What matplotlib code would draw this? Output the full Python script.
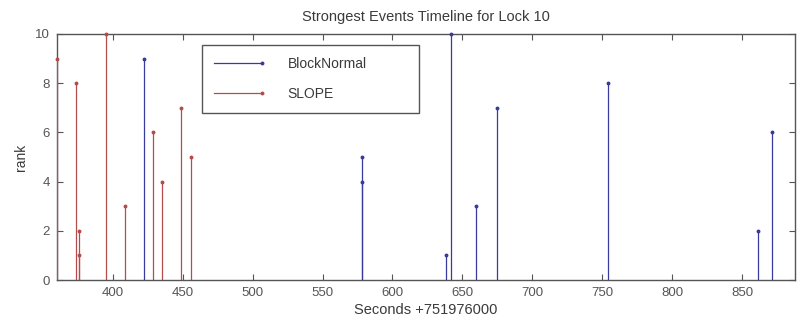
import matplotlib

matplotlib.use("Agg")
import matplotlib.pyplot as plt
from matplotlib.legend_handler import HandlerLine2DCompound
from matplotlib.lines import Line2D

# event times (seconds offset) and ranks
block_t = [422.4, 578.5, 578.5, 638.6, 641.7, 659.6, 674.6, 754.5, 861.7, 871.2]
block_rank = [9, 5, 4, 1, 10, 3, 7, 8, 2, 6]
slope_t = [360.0, 373.8, 376.0, 376.0, 395.0, 408.6, 429.0, 435.0, 448.7, 455.6]
slope_rank = [9, 8, 2, 1, 10, 3, 6, 4, 7, 5]

BLUE = "#3a3a9c"
RED = "#b44c4c"
GREY = "#555555"

plt.rcParams.update({
    "font.family": ["Liberation Sans", "DejaVu Sans"],
    "font.size": 10,
    "axes.edgecolor": GREY,
    "xtick.color": GREY,
    "ytick.color": GREY,
    "xtick.labelsize": 9.5,
    "ytick.labelsize": 9.5,
    "text.color": "#3a3a3a",
    "axes.labelcolor": "#3a3a3a",
})


class EndMarker(HandlerLine2DCompound):
    # legend line with the marker at its right end, like MATLAB stem legends
    def get_xdata(self, legend, xdescent, ydescent, width, height, fontsize):
        return [-xdescent, -xdescent + width], [-xdescent + width]


fig = plt.figure(figsize=(7.98, 3.23), dpi=100)
ax = fig.add_axes([0.0714, 0.133, 0.925, 0.762])

for ts, rs, c in ((block_t, block_rank, BLUE), (slope_t, slope_rank, RED)):
    ax.vlines(ts, 0, rs, color=c, linewidth=0.9, zorder=3)
    ax.plot(ts, rs, linestyle="none", marker="o", markersize=1.8, color=c,
            clip_on=False, zorder=4)

ax.set_xlim(360, 888)
ax.set_ylim(0, 10)
ax.set_xticks(range(400, 851, 50))
ax.set_yticks(range(0, 11, 2))
ax.tick_params(direction="in", top=True, right=True, length=4, width=0.8, pad=5)
for sp in ax.spines.values():
    sp.set_linewidth(1.0)

ax.set_title("Strongest Events Timeline for Lock 10", fontsize=10.5, pad=9)
ax.set_xlabel("Seconds +751976000", fontsize=10.5, labelpad=3)
ax.set_ylabel("rank", labelpad=5)

handles = [
    Line2D([0], [0], color=BLUE, linewidth=0.9, marker="o", markersize=1.8),
    Line2D([0], [0], color=RED, linewidth=0.9, marker="o", markersize=1.8),
]
leg = ax.legend(handles, ["BlockNormal", "SLOPE"], loc="upper left",
                bbox_to_anchor=(0.1965, 0.955, 0.294, 0.0), mode="expand",
                borderaxespad=0, fancybox=False, framealpha=1,
                edgecolor=GREY, handlelength=3.5, handletextpad=1.8,
                labelspacing=1.15, borderpad=0.85, numpoints=1,
                handler_map={Line2D: EndMarker()})
leg.get_frame().set_linewidth(1.0)

fig.savefig("out.png", dpi=100)
